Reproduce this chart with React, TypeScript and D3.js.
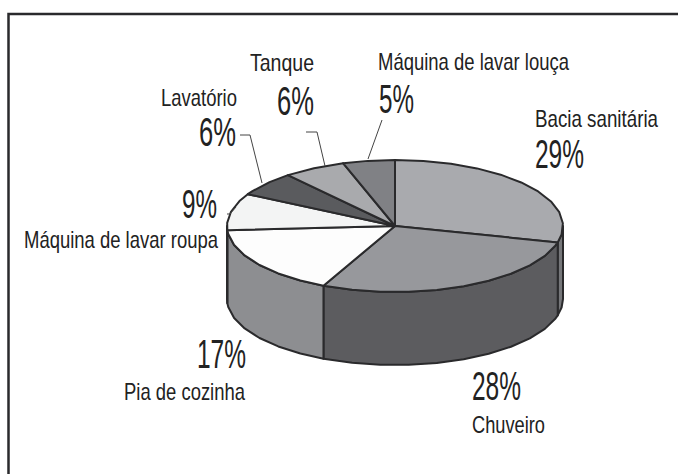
import * as d3 from "d3";

const categories = ["Bacia sanitária", "Chuveiro", "Pia de cozinha", "Máquina de lavar roupa", "Lavatório", "Tanque", "Máquina de lavar louça"];
const shares = [29, 28, 17, 9, 6, 6, 5];
const topColors = ["#a9aaae", "#97989c", "#fdfdfd", "#f3f4f4", "#5a5b5e", "#a9aaad", "#808185"];
const sideColors = ["#76777a", "#5c5c5f", "#8d8e91", "#f3f4f4", "#5a5b5e", "#a9aaad", "#808185"];

const width = 678;
const height = 474;
const cx = 395;
const cy = 226;
const rx = 168;
const ry = 66;
const depth = 73;
const ink = "#2a2a2c";
const rimStep = 0.17; // the scanned rim is visibly faceted, so sample it coarsely

const font = "'Liberation Sans', Arial, sans-serif";

// clockwise from the top, same as d3.pie
const px = (a: number) => cx + rx * Math.sin(a);
const py = (a: number) => cy - ry * Math.cos(a);

const arcs = d3.pie<number>().sort(null).startAngle(0).endAngle(2 * Math.PI)(shares);
const line = d3.line<[number, number]>();

function rimAngles(a0: number, a1: number) {
  const first = Math.ceil(a0 / rimStep + 0.2) * rimStep;
  return [a0, ...d3.range(first, a1 - rimStep * 0.2, rimStep), a1];
}

function topPath(d: d3.PieArcDatum<number>) {
  const rim = rimAngles(d.startAngle, d.endAngle).map((a) => [px(a), py(a)] as [number, number]);
  return line([[cx, cy], ...rim]) + "Z";
}

// front wall of a slice, only the part facing the viewer (pi/2 .. 3pi/2)
function wallPath(d: d3.PieArcDatum<number>) {
  const a0 = Math.max(d.startAngle, Math.PI / 2);
  const a1 = Math.min(d.endAngle, (3 * Math.PI) / 2);
  if (a1 <= a0) return null;
  const angles = rimAngles(a0, a1);
  const upper = angles.map((a) => [px(a), py(a)] as [number, number]);
  const lower = angles.slice().reverse().map((a) => [px(a), py(a) + depth] as [number, number]);
  return line(upper.concat(lower)) + "Z";
}

type Label = { text: string; x: number; y: number; size: number; w: number };

const nameLabels: Label[] = [
  { text: categories[6], x: 378, y: 70, size: 24, w: 191 },
  { text: categories[5], x: 250, y: 71, size: 24, w: 64 },
  { text: categories[4], x: 161, y: 106, size: 24, w: 76 },
  { text: categories[0], x: 535, y: 127, size: 24, w: 123 },
  { text: categories[3], x: 24, y: 248, size: 24, w: 194 },
  { text: categories[2], x: 124, y: 400, size: 24, w: 121 },
  { text: categories[1], x: 472, y: 433, size: 24, w: 73 },
];

const valueLabels: Label[] = [
  { text: `${shares[6]}%`, x: 379, y: 113, size: 40, w: 35 },
  { text: `${shares[5]}%`, x: 277, y: 115, size: 40, w: 37 },
  { text: `${shares[4]}%`, x: 199, y: 146, size: 40, w: 37 },
  { text: `${shares[0]}%`, x: 535, y: 168, size: 40, w: 49 },
  { text: `${shares[3]}%`, x: 182, y: 218, size: 40, w: 35 },
  { text: `${shares[2]}%`, x: 197, y: 368, size: 40, w: 49 },
  { text: `${shares[1]}%`, x: 472, y: 400, size: 40, w: 49 },
];

const leaders = [
  "M382,120L368,159",
  "M306,132L317,132L325,166",
  "M240,135L250,135L262,183",
  "M227,214L230,214L236,207",
];

export default function App() {
  return (
    <svg
      width={width}
      height={height}
      style={{ position: "absolute", left: 0, top: 0, background: "#fff" }}
    >
      <rect x={8.5} y={14} width={690} height={480} fill="#fff" stroke={ink} strokeWidth={2.5} />

      {arcs.map((d, i) => {
        const p = wallPath(d);
        return p ? <path key={i} d={p} fill={sideColors[i]} stroke={ink} strokeWidth={2} strokeLinejoin="round" /> : null;
      })}

      {arcs.map((d, i) => (
        <path key={i} d={topPath(d)} fill={topColors[i]} stroke={ink} strokeWidth={2} strokeLinejoin="round" />
      ))}

      {leaders.map((d, i) => (
        <path key={i} d={d} fill="none" stroke="#444" strokeWidth={1} />
      ))}

      {nameLabels.concat(valueLabels).map((l) => (
        <text
          key={l.text + l.x}
          x={l.x}
          y={l.y}
          fontFamily={font}
          fontSize={l.size}
          fill="#222"
          textLength={l.w}
          lengthAdjust="spacingAndGlyphs"
        >
          {l.text}
        </text>
      ))}
    </svg>
  );
}
